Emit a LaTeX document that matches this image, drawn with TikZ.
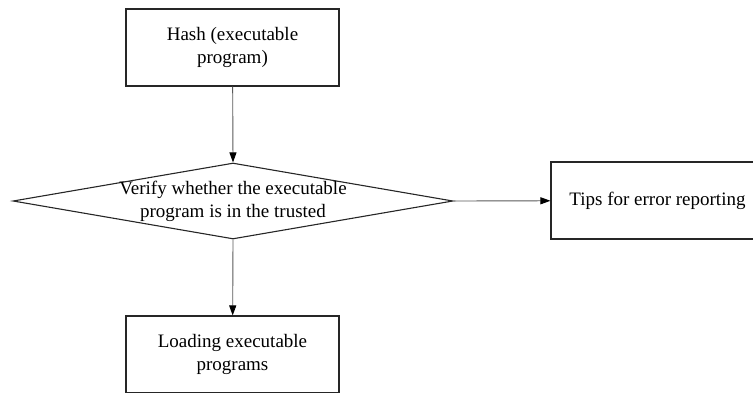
\documentclass[tikz,border=0pt]{standalone}
\usepackage{fontspec}
\setmainfont{Liberation Serif}
\usetikzlibrary{shapes.geometric,arrows.meta}

\tikzset{
  stepbox/.style={draw=black!85,line width=1.1pt,minimum width=213pt,minimum height=77pt,
    align=center,inner sep=0pt},
  decision/.style={draw=black!85,line width=1.1pt,diamond,minimum width=440pt,minimum height=76pt,inner sep=0pt},
  flow/.style={draw=black!65,line width=0.9pt,-{Triangle[length=10pt,width=7pt,color=black]}},
}

\begin{document}
\begin{tikzpicture}[x=1pt,y=-1pt,font=\fontsize{19}{23}\selectfont]
  \clip (0,0) rectangle (753,392);
  \node[stepbox] (hash) at (232.5,47.5) {Hash (executable\\program)};
  \node[decision] (verify) at (233,201) {};
  \node[align=center,inner sep=0pt] (verifytext) at (verify.center) {Verify whether the executable\\program is in the trusted};
  \node[stepbox] (tips) at (657.5,200.5) {Tips for error reporting};
  \node[stepbox] (load) at (232.5,354.5) {Loading executable\\programs};

  \draw[flow] (hash) -- (verify.north);
  \draw[flow] (verify.south) -- (load);
  \draw[flow] (verify.east) -- (tips);
 \end{tikzpicture}
\end{document}
